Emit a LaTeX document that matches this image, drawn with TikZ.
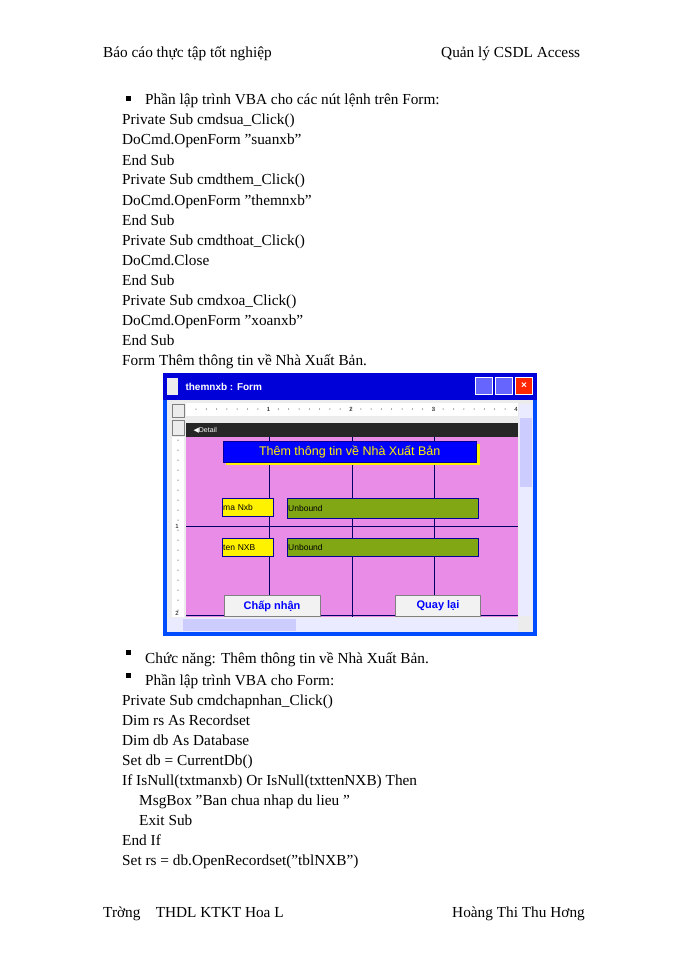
\documentclass[tikz,border=0pt]{standalone}
\usepackage{fontspec}
\setmainfont{Liberation Serif}
\newfontfamily\uifont{Liberation Sans}
\newfontfamily\dvfont{DejaVu Sans}
\begin{document}
\begin{tikzpicture}[x=1pt,y=-1pt,
  txt/.style={anchor=base west,inner sep=0pt,font=\fontsize{15.3}{15}\selectfont},
  bul/.style={fill=black,minimum size=5pt,inner sep=0pt},
  lbl/.style={draw=blue!60!black,fill=yellow,anchor=north west,inner sep=0pt,font=\uifont\fontsize{8.5}{8.5}\selectfont},
  ub/.style={draw=blue!60!black,fill=olive!60!green!85!yellow,anchor=north west,inner sep=0pt,font=\uifont\fontsize{8.5}{8.5}\selectfont},
  btn/.style={draw=gray,fill=gray!10,text=blue,font=\uifont\bfseries\fontsize{11}{11}\selectfont}]
\useasboundingbox (0,0) rectangle (700,960);
\fill[white] (0,0) rectangle (700,960);
\node[txt] (h1) at (103,58) {Báo cáo thực tập tốt nghiệp};
\node[txt] (h2) at (441,58) {Quản lý CSDL Access};
\node[bul] (b1) at (128,99) {};
\node[txt] (t1) at (145,105) {Phần lập trình VBA cho các nút lệnh trên Form:};
\foreach \i/\s in {1/{Private Sub cmdsua\_Click()},2/{DoCmd.OpenForm "suanxb"},3/{End Sub},4/{Private Sub cmdthem\_Click()},5/{DoCmd.OpenForm "themnxb"},6/{End Sub},7/{Private Sub cmdthoat\_Click()},8/{DoCmd.Close},9/{End Sub},10/{Private Sub cmdxoa\_Click()},11/{DoCmd.OpenForm "xoanxb"},12/{End Sub},13/{Form Thêm thông tin về Nhà Xuất Bản.}}
  \node[txt] (c\i) at (122,105+20*\i) {\s};
% window
\fill[blue!70!cyan] (163,373) rectangle (537,636);
\fill[blue!85!black] (163,373) rectangle (537,400);
\node[anchor=west,text=white,font=\uifont\bfseries\fontsize{10}{10}\selectfont] (wt) at (182,387) {themnxb : Form};
\fill[white!85!gray] (167,378) rectangle (178,395);
\node[draw=white,fill=blue!60,minimum width=17,minimum height=17,inner sep=0pt] (mn) at (484,386) {};
\node[draw=white,fill=blue!60,minimum width=17,minimum height=17,inner sep=0pt] (mx) at (504,386) {};
\node[draw=white,fill=red!70!orange,minimum width=17,minimum height=17,inner sep=0pt,text=white,font=\uifont\bfseries] (cl) at (524,386) {×};
\fill[gray!15] (167,400) rectangle (533,632);
\fill[white] (186,403) rectangle (518,416);
\fill[white] (172,437) rectangle (184,617);
\draw[gray] (172,420) rectangle (184,435);
\draw[gray] (172,404) rectangle (184,417);
\foreach \k in {0,...,30} \fill (196+10.3*\k,409) circle (0.5);
\foreach \k/\n in {1/1,2/2,3/3,4/4} \node[font=\uifont\fontsize{6}{6}\selectfont,inner sep=0pt] (r\k) at (186+82.5*\k,409) {\n};
\foreach \k in {0,...,17} \fill (178,440+10*\k) circle (0.5);
\node[font=\uifont\fontsize{6}{6}\selectfont,inner sep=0pt] (v1) at (177,526) {1};
\node[font=\uifont\fontsize{6}{6}\selectfont,inner sep=0pt] (v2) at (177,613) {2};
\fill[black!85] (186,423) rectangle (518,437);
\node[anchor=west,text=white,font=\uifont\fontsize{7}{7}\selectfont] (det) at (190,430) {{\dvfont ◀}Detail};
\fill[violet!40!magenta!45] (186,437) rectangle (518,617);
\draw[blue!40!black,thick] (269,437)--(269,617) (352,437)--(352,617) (434,437)--(434,617) (186,526)--(518,526) (186,615)--(518,615);
\fill[yellow] (226,444) rectangle (480,465);
\node[draw=blue!60!black,fill=blue,text=yellow,minimum width=253,minimum height=21,inner sep=0pt,anchor=north west,font=\uifont\fontsize{12.5}{12.5}\selectfont] (ttl) at (223,441) {Thêm thông tin về Nhà Xuất Bản};
\node[lbl,minimum width=51,minimum height=18,text width=49] (l1) at (222,498) {ma Nxb};
\node[ub,minimum width=191,minimum height=20,text width=189] (u1) at (287,498) {Unbound};
\node[lbl,minimum width=51,minimum height=18,text width=49] (l2) at (222,538) {ten NXB};
\node[ub,minimum width=191,minimum height=18,text width=189] (u2) at (287,538) {Unbound};
\node[btn,minimum width=96,minimum height=21] (bok) at (272,606) {Chấp nhận};
\node[btn,minimum width=85,minimum height=21] (bq) at (438,606) {Quay lại};
\fill[blue!8] (519,404) rectangle (533,616);
\fill[blue!20] (520,418) rectangle (532,487);
\fill[blue!8] (168,618) rectangle (518,632);
\fill[blue!20] (183,619) rectangle (296,631);
% after
\node[bul] (b2) at (128,652) {};
\node[txt] (t2) at (145,663) {Chức năng: Thêm thông tin về Nhà Xuất Bản.};
\node[bul] (b3) at (128,675) {};
\node[txt] (t3) at (145,685) {Phần lập trình VBA cho Form:};
\foreach \i/\s/\x in {1/{Private Sub cmdchapnhan\_Click()}/122,2/{Dim rs As Recordset}/122,3/{Dim db As Database}/122,4/{Set db = CurrentDb()}/122,5/{If IsNull(txtmanxb) Or IsNull(txttenNXB) Then}/122,6/{MsgBox "Ban chua nhap du lieu "}/139,7/{Exit Sub}/139,8/{End If}/122,9/{Set rs = db.OpenRecordset("tblNXB")}/122}
  \node[txt] (d\i) at (\x,685+20*\i) {\s};
\node[txt] (f1) at (103,917) {Trờng\quad THDL KTKT Hoa L};
\node[txt] (f2) at (452,917) {Hoàng Thi Thu Hơng};
\end{tikzpicture}
\end{document}
